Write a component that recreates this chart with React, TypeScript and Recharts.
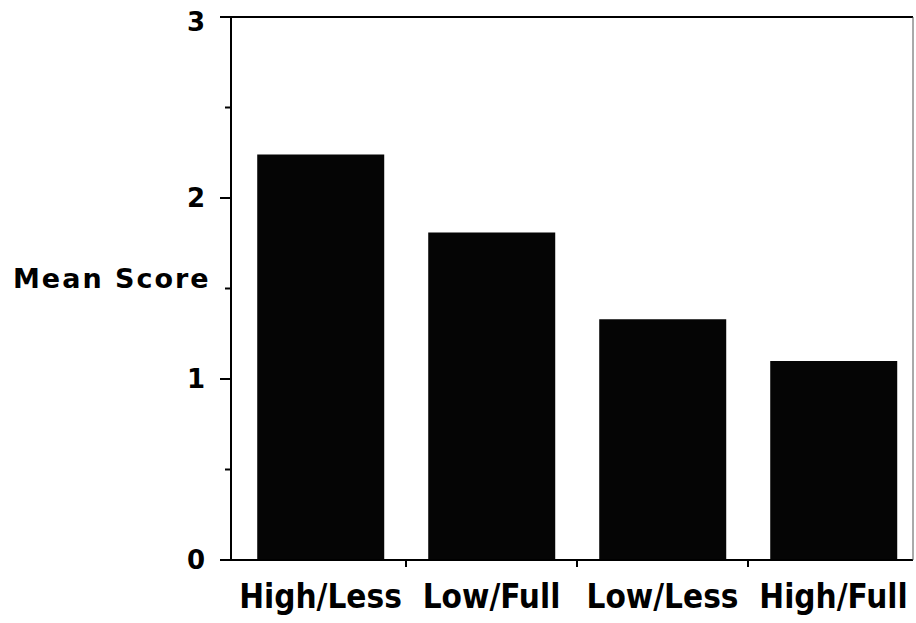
import React from "react";
import { BarChart, Bar, XAxis, YAxis, ReferenceLine } from "recharts";

const categories = ["High/Less", "Low/Full", "Low/Less", "High/Full"];
const meanScores = [2.24, 1.81, 1.33, 1.1];
const yTicks = [0, 0.5, 1, 1.5, 2, 2.5, 3];
const boundaryTicks = [1, 2, 3];

const data = categories.map((c, i) => ({ idx: i, group: c, score: meanScores[i] }));

const FONT = "'DejaVu Sans', sans-serif";
// the original plot lets the category bands run a little past the frame
const catPadding = { left: 4, right: -6 };

function YTick(props: any) {
  const { x, y, payload } = props;
  const v = payload.value as number;
  const major = Number.isInteger(v);
  const len = major ? 11 : 6;
  return (
    <g>
      <line x1={x} x2={x - len} y1={y} y2={y} stroke="#000" strokeWidth={2} />
      {major && (
        <text
          x={x - 26}
          y={y + (v === 3 ? 5 : 0)}
          textAnchor="end"
          dominantBaseline="central"
          fontFamily={FONT}
          fontWeight="bold"
          fontSize={26}
          fill="#000"
        >
          {v}
        </text>
      )}
    </g>
  );
}

function XTick(props: any) {
  const { x, y, payload } = props;
  return (
    <text
      x={x}
      y={y + 39}
      textAnchor="middle"
      fontFamily="'DejaVu Sans Condensed', sans-serif"
      fontWeight="bold"
      fontSize={33}
      fill="#000"
    >
      {payload.value}
    </text>
  );
}

export default function App() {
  return (
    <div style={{ position: "absolute", left: 0, top: 0, background: "#fff" }}>
      <BarChart
        width={916}
        height={623}
        data={data}
        margin={{ top: 17, right: 0, bottom: 0, left: 0 }}
        barCategoryGap="13%"
      >
        <XAxis
          xAxisId="bounds"
          type="number"
          dataKey="idx"
          domain={[0, 4]}
          ticks={boundaryTicks}
          allowDataOverflow
          padding={catPadding}
          height={1}
          tick={() => <g />}
          tickSize={7}
          tickLine={{ stroke: "#000", strokeWidth: 2 }}
          axisLine={{ stroke: "#000", strokeWidth: 2 }}
        />
        <XAxis
          xAxisId="cat"
          dataKey="group"
          height={62}
          padding={catPadding}
          axisLine={false}
          tickLine={false}
          tick={<XTick />}
        />
        <YAxis
          domain={[0, 3]}
          ticks={yTicks}
          width={231}
          interval={0}
          tickLine={false}
          tickSize={0}
          tickMargin={0}
          tick={<YTick />}
          axisLine={{ stroke: "#000", strokeWidth: 2 }}
          label={{
            value: "Mean Score",
            position: "insideLeft",
            offset: 13,
            dy: -10,
            fontFamily: FONT,
            fontWeight: "bold",
            fontSize: 27,
            letterSpacing: 2,
            fill: "#000",
          }}
        />
        <YAxis
          yAxisId="right"
          orientation="right"
          width={3}
          tick={false}
          tickLine={false}
          axisLine={{ stroke: "#555", strokeWidth: 1 }}
        />
        <ReferenceLine xAxisId="cat" y={3} stroke="#000" strokeWidth={2} ifOverflow="visible" />
        <Bar
          xAxisId="cat"
          dataKey="score"
          fill="#050505"
          isAnimationActive={false}
        />
      </BarChart>
    </div>
  );
}
